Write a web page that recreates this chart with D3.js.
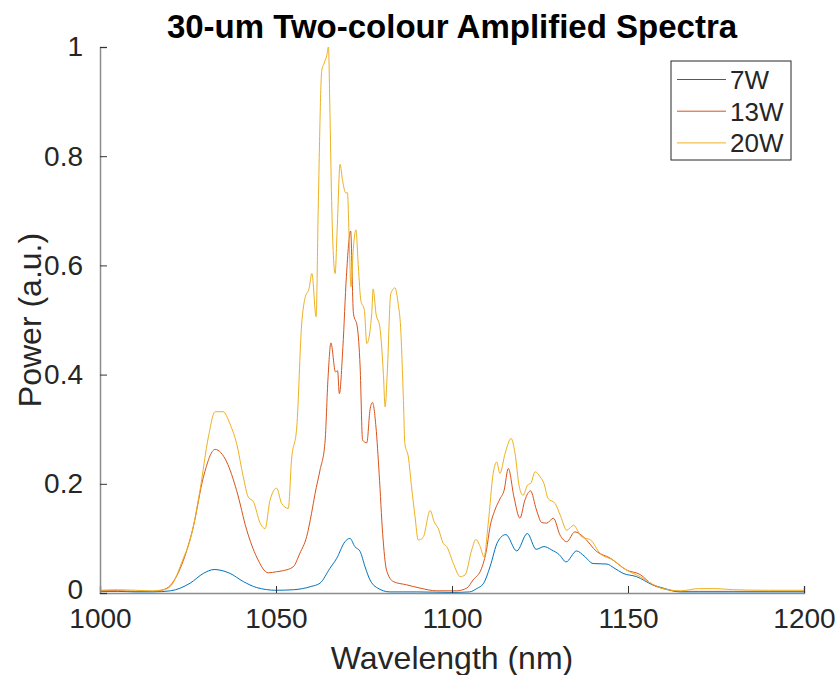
<!DOCTYPE html>
<html lang="en">
<head>
    <meta charset="UTF-8">
    <title>30-um Two-colour Amplified Spectra</title>
    <style>
        body {
            margin: 0;
            padding: 0;
            background: #fff;
        }

        text {
            font-family: "Liberation Sans", Arial, Helvetica, sans-serif;
            fill: #262626;
        }

        .spectrum {
            fill: none;
            stroke-width: 1;
        }
    </style>
</head>
<body>
    <script src="https://d3js.org/d3.v7.min.js"></script>
    <script>
        // spectra: [wavelength (nm), power (a.u.)]
        const spectrum7W = [
            [1000, 0.003], [1005, 0.003], [1010, 0.002], [1015, 0.002], [1020, 0.004], [1025.6, 0.018],
            [1029.4, 0.036], [1032.4, 0.043], [1036.9, 0.036], [1040.7, 0.021], [1044.5, 0.010], [1050, 0.005],
            [1055, 0.006], [1060, 0.012], [1062.5, 0.018], [1065.3, 0.045], [1067.2, 0.063], [1069.6, 0.094],
            [1071, 0.100], [1072.4, 0.085], [1073.9, 0.076], [1075.3, 0.048], [1076.7, 0.024], [1078.6, 0.010],
            [1082.4, 0.002], [1090, 0.002], [1100, 0.001], [1105, 0.002], [1107, 0.008], [1109, 0.018],
            [1110.8, 0.048], [1113, 0.094], [1115.3, 0.107], [1118.4, 0.077], [1121.4, 0.109], [1123.9, 0.080],
            [1126.1, 0.085], [1128.3, 0.079], [1130.5, 0.070], [1132.4, 0.057], [1135.4, 0.077], [1137.5, 0.068],
            [1140.1, 0.054], [1144, 0.053], [1146, 0.046], [1148.6, 0.036], [1152.4, 0.030], [1157, 0.015],
            [1160, 0.009], [1164.8, 0.002], [1170, 0.002], [1180, 0.002], [1190, 0.002], [1200, 0.002]
        ];

        const spectrum13W = [
            [1000, 0.004], [1005, 0.004], [1010, 0.003], [1015, 0.003], [1018, 0.006], [1020, 0.014],
            [1023.7, 0.060], [1026.5, 0.121], [1029.4, 0.213], [1032.7, 0.263], [1036, 0.240], [1038.8, 0.188],
            [1041.7, 0.115], [1044.5, 0.066], [1047.8, 0.037], [1050.2, 0.039], [1052.1, 0.041], [1054.9, 0.048],
            [1056.8, 0.073], [1058.7, 0.103], [1060.1, 0.146], [1061.1, 0.182], [1062.5, 0.225], [1063.9, 0.274],
            [1064.8, 0.396], [1065.6, 0.458], [1066.9, 0.405], [1067.5, 0.407], [1068, 0.365], [1069, 0.450],
            [1070, 0.580], [1071.2, 0.663], [1072, 0.512], [1073.1, 0.487], [1073.9, 0.414], [1074.6, 0.280],
            [1075.8, 0.275], [1076.7, 0.335], [1077.4, 0.349], [1078.4, 0.304], [1079.3, 0.219], [1080.3, 0.109],
            [1081.4, 0.042], [1083.3, 0.021], [1087.1, 0.015], [1090.9, 0.009], [1095.6, 0.004], [1101.3, 0.004],
            [1104.2, 0.009], [1106, 0.024], [1108.4, 0.045], [1109.8, 0.079], [1110.8, 0.121], [1112.2, 0.152],
            [1113.6, 0.172], [1114.8, 0.188], [1116, 0.228], [1117.6, 0.176], [1119.3, 0.137], [1120.7, 0.170],
            [1122.3, 0.187], [1124, 0.152], [1125.5, 0.129], [1126.9, 0.128], [1128.8, 0.137], [1130.7, 0.106],
            [1132.6, 0.094], [1134.9, 0.112], [1137.3, 0.103], [1141.1, 0.076], [1144.9, 0.064], [1149.6, 0.042],
            [1153.4, 0.034], [1157, 0.015], [1160, 0.008], [1164.8, 0.003], [1170, 0.003], [1180, 0.003],
            [1190, 0.003], [1200, 0.003]
        ];

        const spectrum20W = [
            [1000, 0.005], [1005, 0.006], [1010, 0.005], [1015, 0.004], [1018, 0.006], [1020, 0.012],
            [1023.7, 0.064], [1025.6, 0.097], [1028.4, 0.188], [1030.8, 0.286], [1032.7, 0.332], [1035, 0.332],
            [1036.9, 0.310], [1038.8, 0.274], [1040.7, 0.213], [1042.1, 0.176], [1043.6, 0.167], [1045.5, 0.128],
            [1046.9, 0.118], [1048.3, 0.170], [1050.2, 0.192], [1051.6, 0.164], [1053.5, 0.155], [1054.4, 0.243],
            [1055.9, 0.304], [1057.3, 0.493], [1058.2, 0.539], [1059.4, 0.558], [1060.2, 0.585], [1061.4, 0.506],
            [1062, 0.707], [1063, 0.957], [1063.6, 0.969], [1064.4, 0.984], [1064.9, 1.000], [1065.3, 0.890],
            [1065.8, 0.719], [1066.8, 0.585], [1067.4, 0.670], [1068.2, 0.785], [1068.9, 0.756], [1069.8, 0.733],
            [1070.3, 0.733], [1070.8, 0.646], [1071.3, 0.561], [1072, 0.634], [1072.7, 0.665], [1073.4, 0.597],
            [1074.1, 0.536], [1075.1, 0.518], [1075.8, 0.457], [1077.2, 0.512], [1077.6, 0.557], [1078.4, 0.512],
            [1079.5, 0.487], [1080.5, 0.402], [1081, 0.341], [1081.6, 0.402], [1082.6, 0.548], [1083.8, 0.559],
            [1084.7, 0.530], [1085.4, 0.487], [1086.2, 0.353], [1086.6, 0.274], [1087.6, 0.249], [1088.5, 0.195],
            [1089.5, 0.140], [1090.4, 0.097], [1091.8, 0.102], [1093.8, 0.151], [1094.9, 0.131], [1096.1, 0.118],
            [1097.5, 0.091], [1098.5, 0.085], [1100.4, 0.054], [1102.3, 0.030], [1103.7, 0.033], [1105.6, 0.079],
            [1106.8, 0.098], [1108, 0.085], [1109.1, 0.066], [1110.3, 0.128], [1111.7, 0.219], [1112.7, 0.240],
            [1113.6, 0.219], [1115.1, 0.256], [1116.8, 0.283], [1117.9, 0.256], [1119.1, 0.195], [1120.2, 0.179],
            [1121.5, 0.198], [1122.4, 0.201], [1123.6, 0.222], [1125, 0.213], [1126.1, 0.201], [1127.3, 0.173],
            [1129.3, 0.164], [1130.9, 0.140], [1132.6, 0.115], [1134.5, 0.124], [1136.8, 0.103], [1139.4, 0.097],
            [1142, 0.073], [1145.8, 0.060], [1149.6, 0.042], [1153.4, 0.030], [1157, 0.016], [1160, 0.008],
            [1165, 0.004], [1170, 0.008], [1175, 0.008], [1180, 0.006], [1190, 0.005], [1200, 0.005]
        ];

        const seriesNames = ["7W", "13W", "20W"];
        const seriesColors = ["#0072BD", "#D95319", "#EDB120"];
        const xTicks = [1000, 1050, 1100, 1150, 1200];
        const yTicks = [0, 0.2, 0.4, 0.6, 0.8, 1];
        const yTickLabels = ["0", "0.2", "0.4", "0.6", "0.8", "1"];

        const allSeries = [spectrum7W, spectrum13W, spectrum20W];

        const W = 839, H = 675;
        const margin = { top: 47, right: 35, bottom: 82, left: 100 };
        const width = W - margin.left - margin.right;
        const height = H - margin.top - margin.bottom;

        const svg = d3.select("body").append("svg")
            .attr("width", W)
            .attr("height", H);

        const g = svg.append("g")
            .attr("transform", "translate(" + margin.left + "," + margin.top + ")");

        const x = d3.scaleLinear().domain([1000, 1200]).range([0, width]);
        const y = d3.scaleLinear().domain([0, 1]).range([height, 0]);

        // spectra
        const line = d3.line()
            .x(d => x(d[0]))
            .y(d => y(d[1]))
            .curve(d3.curveMonotoneX);

        g.selectAll(".spectrum")
            .data(allSeries)
            .enter().append("path")
            .attr("class", "spectrum")
            .attr("stroke", (d, i) => seriesColors[i])
            .attr("d", line);

        // axes (ticks point inward, like the original)
        const xAxis = g.append("g")
            .attr("transform", "translate(0," + height + ")")
            .call(d3.axisBottom(x).tickValues(xTicks).tickSize(-7).tickPadding(15).tickFormat(d3.format("d")));

        const yAxis = g.append("g")
            .call(d3.axisLeft(y).tickValues(yTicks).tickSize(-7).tickPadding(17)
                .tickFormat((d, i) => yTickLabels[i]));

        [xAxis, yAxis].forEach(ax => {
            ax.select(".domain").attr("stroke", "#8c8c8c").attr("stroke-width", 1.5);
            ax.selectAll(".tick line").attr("stroke", "#333");
            ax.selectAll(".tick text").style("font-size", "28px").attr("fill", "#262626");
        });

        // the "0" label sits right above "1000" in the original, lift it a hair
        yAxis.selectAll(".tick text").filter(d => d === 0).attr("dy", "0.2em");

        // axis titles
        svg.append("text")
            .attr("x", margin.left + width / 2)
            .attr("y", 669)
            .attr("text-anchor", "middle")
            .style("font-size", "32px")
            .text("Wavelength (nm)");

        svg.append("text")
            .attr("transform", "rotate(-90)")
            .attr("x", -(margin.top + height / 2))
            .attr("y", 41)
            .attr("text-anchor", "middle")
            .style("font-size", "32px")
            .text("Power (a.u.)");

        // title
        svg.append("text")
            .attr("x", margin.left + width / 2)
            .attr("y", 38)
            .attr("text-anchor", "middle")
            .style("font-size", "33px")
            .style("font-weight", "bold")
            .style("fill", "#000")
            .text("30-um Two-colour Amplified Spectra");

        // legend
        const legend = svg.append("g").attr("transform", "translate(671,61)");

        legend.append("rect")
            .attr("width", 120)
            .attr("height", 99)
            .attr("fill", "#fff")
            .attr("stroke", "#262626")
            .attr("stroke-width", 1);

        seriesNames.forEach((name, i) => {
            const ly = 18.5 + i * 31.7;
            legend.append("line")
                .attr("x1", 6).attr("x2", 55)
                .attr("y1", ly).attr("y2", ly)
                .attr("stroke", seriesColors[i])
                .attr("stroke-width", 1);
            legend.append("text")
                .attr("x", 59)
                .attr("y", ly)
                .attr("dy", "0.36em")
                .style("font-size", "26px")
                .text(name);
        });
    </script>
</body>
</html>
